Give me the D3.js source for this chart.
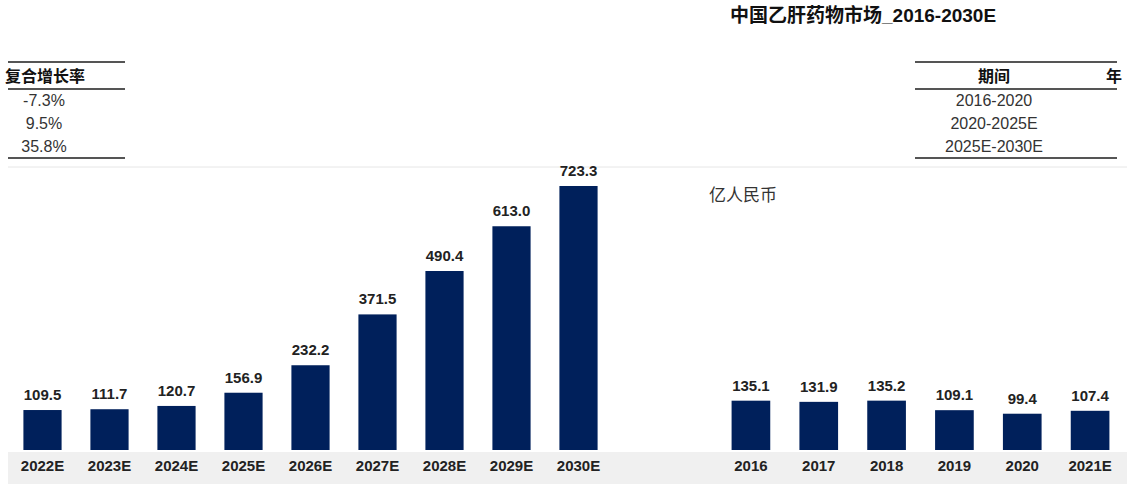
<!DOCTYPE html>
<html>
<head>
<meta charset="utf-8">
<script src="https://cdn.jsdelivr.net/npm/d3@7"></script>
<style>
  body { margin: 0; background: #fff; }
  text { font-family: "Liberation Sans", Arial, "Noto Sans CJK SC", sans-serif; }
</style>
</head>
<body>
<div id="chart"></div>
<script>
// data
const yearsLeft = ["2022E", "2023E", "2024E", "2025E", "2026E", "2027E", "2028E", "2029E", "2030E"];
const valuesLeft = [109.5, 111.7, 120.7, 156.9, 232.2, 371.5, 490.4, 613.0, 723.3];
const yearsRight = ["2016", "2017", "2018", "2019", "2020", "2021E"];
const valuesRight = [135.1, 131.9, 135.2, 109.1, 99.4, 107.4];
const periods = ["2016-2020", "2020-2025E", "2025E-2030E"];
const cagr = ["-7.3%", "9.5%", "35.8%"];

const W = 1127, H = 489;
const svg = d3.select("#chart").append("svg")
  .attr("width", W).attr("height", H);

const navy = "#00205b";

// scales
const y = d3.scaleLinear().domain([0, 800]).range([450, 158]);
const xL = d3.scaleBand().domain(yearsLeft).range([9, 612]).paddingInner(0.43).paddingOuter(0.215);
const xR = d3.scaleBand().domain(yearsRight).range([717, 1124]).paddingInner(0.43).paddingOuter(0.215);

// axis label strip
svg.append("rect")
  .attr("x", 8).attr("y", 452).attr("width", W - 8).attr("height", 32)
  .attr("fill", "#f0f0f0");

// top rule of plot area
svg.append("line")
  .attr("x1", 8).attr("x2", W).attr("y1", 167).attr("y2", 167)
  .attr("stroke", "#e6e6e6").attr("stroke-width", 1);

// title
svg.append("text")
  .attr("x", 730).attr("y", 22)
  .style("font-size", "19px").style("font-weight", "bold").style("fill", "#111")
  .text("中国乙肝药物市场_2016-2030E");

// unit
svg.append("text")
  .attr("x", 709).attr("y", 201)
  .style("font-size", "17px").style("fill", "#333")
  .text("亿人民币");

function drawGroup(x, years, values) {
  const g = svg.append("g");
  const data = years.map((k, i) => ({ k, v: values[i] }));
  g.selectAll(".bar").data(data).enter().append("rect")
    .attr("x", d => x(d.k))
    .attr("y", d => y(d.v))
    .attr("width", x.bandwidth())
    .attr("height", d => y(0) - y(d.v))
    .attr("fill", navy);
  g.selectAll(".val").data(data).enter().append("text")
    .attr("x", d => x(d.k) + x.bandwidth() / 2)
    .attr("y", d => y(d.v) - 10)
    .attr("text-anchor", "middle")
    .style("font-size", "15px").style("font-weight", "bold").style("fill", "#222")
    .text(d => d3.format(".1f")(d.v));
  const ax = g.append("g")
    .attr("transform", "translate(0,450)")
    .call(d3.axisBottom(x).tickSize(0).tickPadding(10));
  ax.select(".domain").remove();
  ax.selectAll("text")
    .style("font-size", "15px").style("font-weight", "bold").style("fill", "#222")
    .style("font-family", "Liberation Sans, Arial, sans-serif");
}
drawGroup(xL, yearsLeft, valuesLeft);
drawGroup(xR, yearsRight, valuesRight);

// tables
function rules(x1, x2) {
  [62, 89, 158].forEach(yy => {
    svg.append("line")
      .attr("x1", x1).attr("x2", x2).attr("y1", yy).attr("y2", yy)
      .attr("stroke", "#555").attr("stroke-width", 2);
  });
}
rules(8, 125);
rules(915, 1117);

const rowY = d3.scalePoint().domain(d3.range(3)).range([106, 152]);

// right part: 期间 column
svg.append("text")
  .attr("x", 994).attr("y", 82).attr("text-anchor", "middle")
  .style("font-size", "16px").style("font-weight", "bold").style("fill", "#111")
  .text("期间");
svg.append("text")
  .attr("x", 1106).attr("y", 82)
  .style("font-size", "16px").style("font-weight", "bold").style("fill", "#111")
  .text("年");
svg.selectAll(".period").data(periods).enter().append("text")
  .attr("x", 994).attr("y", (d, i) => rowY(i)).attr("text-anchor", "middle")
  .style("font-size", "16px").style("fill", "#333")
  .text(d => d);

// left part: 年复合增长率 column (header continues from the right edge)
svg.append("text")
  .attr("x", 5).attr("y", 82)
  .style("font-size", "16px").style("font-weight", "bold").style("fill", "#111")
  .text("复合增长率");
svg.selectAll(".cagr").data(cagr).enter().append("text")
  .attr("x", 44).attr("y", (d, i) => rowY(i)).attr("text-anchor", "middle")
  .style("font-size", "16px").style("fill", "#333")
  .text(d => d);
</script>
</body>
</html>
